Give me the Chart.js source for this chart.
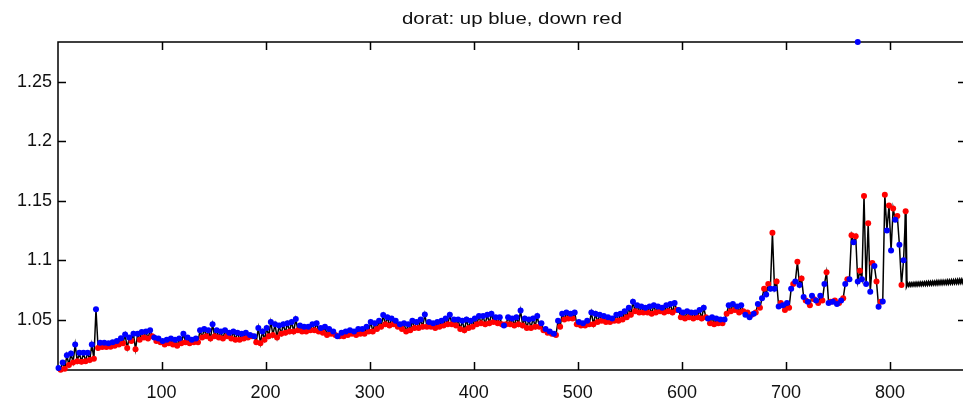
<!DOCTYPE html>
<html>
<head>
<meta charset="utf-8">
<title>dorat</title>
<script src="https://cdn.jsdelivr.net/npm/chart.js@4/dist/chart.umd.min.js"></script>
<style>
    html, body { margin: 0; padding: 0; overflow: hidden; background: #fff; }
    #wrap { width: 972px; height: 406px; }
</style>
</head>
<body>
<div id="wrap"><canvas id="grafico" width="972" height="406"></canvas></div>
<script>
const titulo = "dorat: up blue, down red";

// pares de amostras: "up" no indice start + stride*k, "down" dois indices depois
const start = 1;
const stride = 4;

const upVals = [
    1.0092, 1.0140, 1.0200, 1.0215, 1.0290, 1.0220, 1.0220, 1.0222, 1.0290, 1.0586,
    1.0305, 1.0305, 1.0300, 1.0310, 1.0320, 1.0342, 1.0375, 1.0350, 1.0380, 1.0380,
    1.0395, 1.0400, 1.0410, 1.0350, 1.0340, 1.0320, 1.0330, 1.0340, 1.0330, 1.0340,
    1.0380, 1.0350, 1.0330, 1.0340, 1.0410, 1.0420, 1.0410, 1.0460, 1.0410, 1.0400,
    1.0410, 1.0390, 1.0400, 1.0390, 1.0380, 1.0390, 1.0370, 1.0360, 1.0430, 1.0400,
    1.0430, 1.0480, 1.0460, 1.0450, 1.0460, 1.0470, 1.0480, 1.0504, 1.0450, 1.0440,
    1.0440, 1.0460, 1.0470, 1.0430, 1.0440, 1.0420, 1.0400, 1.0360, 1.0390, 1.0400,
    1.0410, 1.0400, 1.0420, 1.0420, 1.0440, 1.0480, 1.0470, 1.0490, 1.0538, 1.0520,
    1.0510, 1.0490, 1.0460, 1.0470, 1.0460, 1.0490, 1.0480, 1.0500, 1.0543, 1.0480,
    1.0470, 1.0480, 1.0490, 1.0510, 1.0540, 1.0500, 1.0500, 1.0490, 1.0500, 1.0490,
    1.0510, 1.0530, 1.0530, 1.0540, 1.0550, 1.0520, 1.0520, 1.0450, 1.0520, 1.0510,
    1.0520, 1.0577, 1.0510, 1.0500, 1.0510, 1.0530, 1.0470, 1.0420, 1.0400, 1.0380,
    1.0490, 1.0550, 1.0560, 1.0550, 1.0560, 1.0480, 1.0470, 1.0490, 1.0560, 1.0550,
    1.0540, 1.0530, 1.0520, 1.0510, 1.0540, 1.0550, 1.0570, 1.0600, 1.0650, 1.0620,
    1.0610, 1.0600, 1.0610, 1.0620, 1.0610, 1.0600, 1.0620, 1.0630, 1.0640, 1.0580,
    1.0560, 1.0570, 1.0560, 1.0560, 1.0580, 1.0600, 1.0510, 1.0520, 1.0510, 1.0500,
    1.0500, 1.0620, 1.0630, 1.0610, 1.0620, 1.0540, 1.0520, 1.0550, 1.0630, 1.0680,
    1.0710, 1.0760, 1.0760, 1.0610, 1.0620, 1.0640, 1.0760, 1.0820, 1.0790, 1.0690,
    1.0650, 1.0700, 1.0660, 1.0700, 1.0800, 1.0640, 1.0650, 1.0630, 1.0660, 1.0800,
    1.0840, 1.1150, 1.0820, 1.0840, 1.0800, 1.0734, 1.0950, 1.0608, 1.0652, 1.1250,
    1.1080, 1.1340, 1.1130, 1.0999
];

const downVals = [
    1.0078, 1.0086, 1.0118, 1.0140, 1.0150, 1.0145, 1.0150, 1.0160, 1.0170, 1.0262,
    1.0270, 1.0270, 1.0272, 1.0280, 1.0290, 1.0300, 1.0260, 1.0320, 1.0250, 1.0330,
    1.0350, 1.0340, 1.0360, 1.0320, 1.0310, 1.0290, 1.0300, 1.0290, 1.0280, 1.0300,
    1.0310, 1.0300, 1.0310, 1.0310, 1.0350, 1.0360, 1.0340, 1.0360, 1.0350, 1.0340,
    1.0360, 1.0340, 1.0330, 1.0330, 1.0340, 1.0350, 1.0360, 1.0310, 1.0300, 1.0330,
    1.0360, 1.0370, 1.0350, 1.0380, 1.0390, 1.0400, 1.0400, 1.0410, 1.0400, 1.0400,
    1.0410, 1.0410, 1.0400, 1.0390, 1.0370, 1.0380, 1.0370, 1.0360, 1.0360, 1.0370,
    1.0380, 1.0370, 1.0380, 1.0380, 1.0400, 1.0400, 1.0420, 1.0440, 1.0460, 1.0450,
    1.0460, 1.0440, 1.0420, 1.0400, 1.0410, 1.0430, 1.0430, 1.0440, 1.0440, 1.0440,
    1.0430, 1.0440, 1.0450, 1.0460, 1.0460, 1.0450, 1.0420, 1.0410, 1.0430, 1.0440,
    1.0460, 1.0470, 1.0460, 1.0470, 1.0480, 1.0470, 1.0460, 1.0460, 1.0460, 1.0450,
    1.0460, 1.0450, 1.0430, 1.0430, 1.0440, 1.0440, 1.0410, 1.0390, 1.0380, 1.0370,
    1.0440, 1.0500, 1.0510, 1.0510, 1.0460, 1.0450, 1.0450, 1.0460, 1.0460, 1.0480,
    1.0490, 1.0480, 1.0480, 1.0490, 1.0490, 1.0500, 1.0520, 1.0540, 1.0570, 1.0560,
    1.0560, 1.0560, 1.0550, 1.0560, 1.0570, 1.0560, 1.0570, 1.0560, 1.0580, 1.0520,
    1.0510, 1.0520, 1.0510, 1.0520, 1.0510, 1.0520, 1.0470, 1.0460, 1.0470, 1.0470,
    1.0550, 1.0570, 1.0580, 1.0560, 1.0570, 1.0560, 1.0540, 1.0560, 1.0600, 1.0760,
    1.0800, 1.1230, 1.0820, 1.0640, 1.0580, 1.0600, 1.0800, 1.0986, 1.0846, 1.0660,
    1.0620, 1.0670, 1.0640, 1.0660, 1.0897, 1.0650, 1.0660, 1.0640, 1.0680, 1.0840,
    1.1210, 1.1200, 1.0910, 1.1540, 1.1310, 1.0975, 1.0820, 1.0650, 1.1550, 1.1460,
    1.1434, 1.1370, 1.0790, 1.1410
];

// trecho final sem marcadores (zigue-zague preto)
const tailStart = 816;
const tailLow = [
    1.0784, 1.0785, 1.0786, 1.0787, 1.0788, 1.0789, 1.0790, 1.0791, 1.0792, 1.0793,
    1.0794, 1.0795, 1.0796, 1.0797, 1.0798, 1.0799, 1.0800, 1.0801, 1.0802, 1.0803,
    1.0804, 1.0805, 1.0806, 1.0807, 1.0808, 1.0809, 1.0810, 1.0811, 1.0812
];
const tailHigh = [
    1.0803, 1.0804, 1.0805, 1.0806, 1.0808, 1.0809, 1.0810, 1.0811, 1.0812, 1.0814,
    1.0815, 1.0816, 1.0817, 1.0818, 1.0820, 1.0821, 1.0822, 1.0823, 1.0824, 1.0826,
    1.0827, 1.0828, 1.0829, 1.0830, 1.0832, 1.0833, 1.0834, 1.0836, 1.0838
];

// ponto isolado no topo
const outlierX = [769];
const outlierY = [1.2834];

const xTicks = [100, 200, 300, 400, 500, 600, 700, 800];
const yTicks = [1.05, 1.1, 1.15, 1.2, 1.25];
const xRange = [0.5, 873];
const yRange = [1.0076, 1.2834];

// === montar pontos ===
const pontosUp = upVals.map((v, k) => ({ x: start + stride * k, y: v }));
const pontosDown = downVals.map((v, k) => ({ x: start + stride * k + 2, y: v }));
outlierX.forEach((xv, i) => pontosUp.push({ x: xv, y: outlierY[i] }));

const linha = [];
upVals.forEach((v, k) => {
    linha.push(pontosUp[k]);
    linha.push(pontosDown[k]);
});

const cauda = [pontosDown[downVals.length - 1]];
tailLow.forEach((v, k) => {
    cauda.push({ x: tailStart + 2 * k, y: v });
    cauda.push({ x: tailStart + 2 * k + 1, y: tailHigh[k] });
});

const fonte = '"Liberation Sans", Arial, sans-serif';

// moldura estilo matlab, ticks para dentro e titulo
const moldura = {
    id: "moldura",
    beforeDatasetsDraw(chart) {
        const { ctx, chartArea: a, scales: { x, y } } = chart;
        ctx.save();
        ctx.strokeStyle = "#000";
        ctx.lineWidth = 1.5;
        ctx.strokeRect(a.left, a.top, a.right - a.left, a.bottom - a.top);
        ctx.beginPath();
        xTicks.forEach(t => {
            const px = Math.round(x.getPixelForValue(t)) + 0.5;
            ctx.moveTo(px, a.bottom);
            ctx.lineTo(px, a.bottom - 8);
            ctx.moveTo(px, a.top);
            ctx.lineTo(px, a.top + 8);
        });
        yTicks.forEach(t => {
            const py = Math.round(y.getPixelForValue(t)) + 0.5;
            ctx.moveTo(a.left, py);
            ctx.lineTo(a.left + 8, py);
            ctx.moveTo(a.right, py);
            ctx.lineTo(a.right - 8, py);
        });
        ctx.stroke();

        // titulo (um pouco esticado na horizontal, como na figura original)
        ctx.fillStyle = "#111";
        ctx.font = "17px " + fonte;
        ctx.textAlign = "center";
        ctx.textBaseline = "alphabetic";
        ctx.translate((a.left + a.right) / 2, 24);
        ctx.scale(1.2, 1);
        ctx.fillText(titulo, 0, 0);
        ctx.restore();
    }
};

new Chart(document.getElementById("grafico"), {
    type: "line",
    data: {
        datasets: [
            {
                label: "up",
                data: pontosUp,
                showLine: false,
                pointRadius: 3,
                pointBorderWidth: 0,
                pointBackgroundColor: "#0000ff",
                pointBorderColor: "#0000ff",
                clip: false,
                order: 1
            },
            {
                label: "down",
                data: pontosDown,
                showLine: false,
                pointRadius: 3,
                pointBorderWidth: 0,
                pointBackgroundColor: "#ff0000",
                pointBorderColor: "#ff0000",
                clip: false,
                order: 2
            },
            {
                label: "dorat",
                data: linha,
                borderColor: "#000",
                borderWidth: 1.5,
                pointRadius: 0,
                tension: 0,
                order: 3
            },
            {
                label: "cauda",
                data: cauda,
                borderColor: "#000",
                borderWidth: 2.2,
                pointRadius: 0,
                tension: 0,
                order: 4
            }
        ]
    },
    options: {
        responsive: false,
        animation: false,
        events: [],
        layout: { padding: { top: 42, right: 6, left: 0, bottom: 0 } },
        plugins: {
            legend: { display: false },
            tooltip: { enabled: false },
            title: { display: false }
        },
        scales: {
            x: {
                type: "linear",
                min: xRange[0],
                max: xRange[1],
                grid: { display: false, drawTicks: false },
                border: { display: false },
                afterFit: s => { s.height = 36; },
                afterBuildTicks: s => { s.ticks = xTicks.map(v => ({ value: v })); },
                ticks: {
                    padding: 12,
                    color: "#111",
                    font: { family: fonte, size: 18 },
                    maxRotation: 0,
                    callback: v => v.toString()
                }
            },
            y: {
                type: "linear",
                min: yRange[0],
                max: yRange[1],
                grid: { display: false, drawTicks: false },
                border: { display: false },
                afterFit: s => { s.width = 58; },
                afterBuildTicks: s => { s.ticks = yTicks.map(v => ({ value: v })); },
                ticks: {
                    padding: 6,
                    color: "#111",
                    font: { family: fonte, size: 18 },
                    callback: v => v.toString()
                }
            }
        }
    },
    plugins: [moldura]
});
</script>
</body>
</html>
